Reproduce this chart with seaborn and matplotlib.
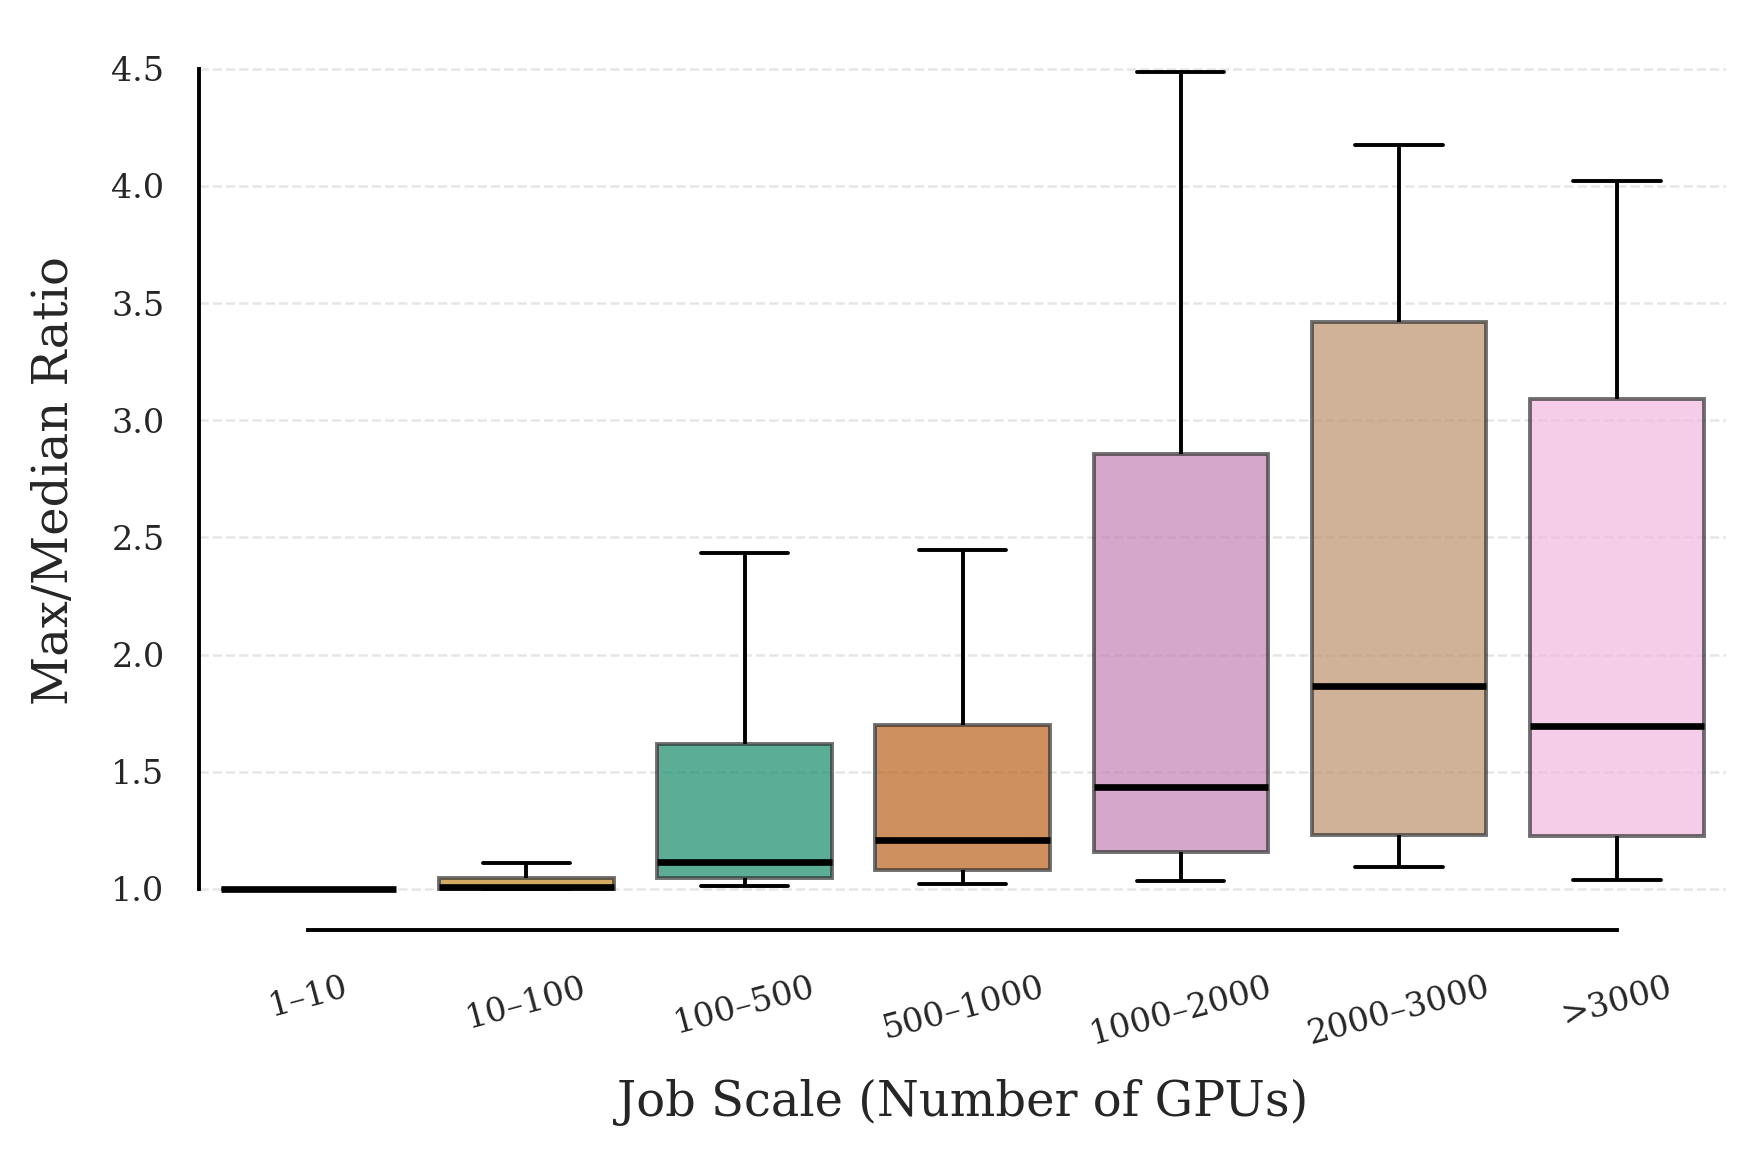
import matplotlib
matplotlib.use("Agg")
import matplotlib.pyplot as plt
import numpy as np
import pandas as pd
import seaborn as sns

# job scale buckets and the five-number summary read off each box
# (min, q1, median, q3, max)
scales = ["1–10", "10–100", "100–500", "500–1000", "1000–2000", "2000–3000", ">3000"]
ratio_1_10 = [1.0, 1.0, 1.0, 1.0, 1.0]
ratio_10_100 = [1.0, 1.0, 1.01, 1.045, 1.11]
ratio_100_500 = [1.014, 1.048, 1.114, 1.619, 2.433]
ratio_500_1000 = [1.02, 1.08, 1.21, 1.70, 2.448]
ratio_1000_2000 = [1.033, 1.157, 1.433, 2.857, 4.486]
ratio_2000_3000 = [1.095, 1.229, 1.867, 3.419, 4.176]
ratio_3000_plus = [1.038, 1.224, 1.695, 3.090, 4.019]

groups = [ratio_1_10, ratio_10_100, ratio_100_500, ratio_500_1000,
          ratio_1000_2000, ratio_2000_3000, ratio_3000_plus]

rows = []
for scale, vals in zip(scales, groups):
    for v in vals:
        rows.append({"scale": scale, "ratio": v})
df = pd.DataFrame(rows)

sns.set_theme(style="white")
plt.rcParams["font.family"] = ["DejaVu Serif"]

fig, ax = plt.subplots(figsize=(8.78, 5.78), dpi=200)
fig.subplots_adjust(left=0.1135, right=0.983, bottom=0.1957, top=0.973)

sns.boxplot(
    data=df, x="scale", y="ratio", hue="scale", order=scales,
    palette="colorblind", legend=False, ax=ax,
    whis=(0, 100), showfliers=False, width=0.8,
    boxprops=dict(alpha=0.7, edgecolor="#333333", linewidth=1.4),
    whiskerprops=dict(color="black", linewidth=1.4),
    capprops=dict(color="black", linewidth=1.4),
    medianprops=dict(color="black", linewidth=2.4),
)

ax.yaxis.grid(True, linestyle="--", color="#e6e6e6", linewidth=0.9)
ax.set_axisbelow(True)
ax.set_yticks(np.arange(1.0, 4.51, 0.5))
sns.despine(ax=ax, trim=True)
for side in ["left", "bottom"]:
    ax.spines[side].set_color("black")
    ax.spines[side].set_linewidth(1.4)

ax.tick_params(axis="x", labelsize=12, rotation=15, pad=9)
ax.tick_params(axis="y", labelsize=12, pad=6.5)
ax.set_xlabel("Job Scale (Number of GPUs)", fontsize=17.3, labelpad=10)
ax.set_ylabel("Max/Median Ratio", fontsize=17.3, labelpad=12)

fig.savefig("out.png", dpi=200)
